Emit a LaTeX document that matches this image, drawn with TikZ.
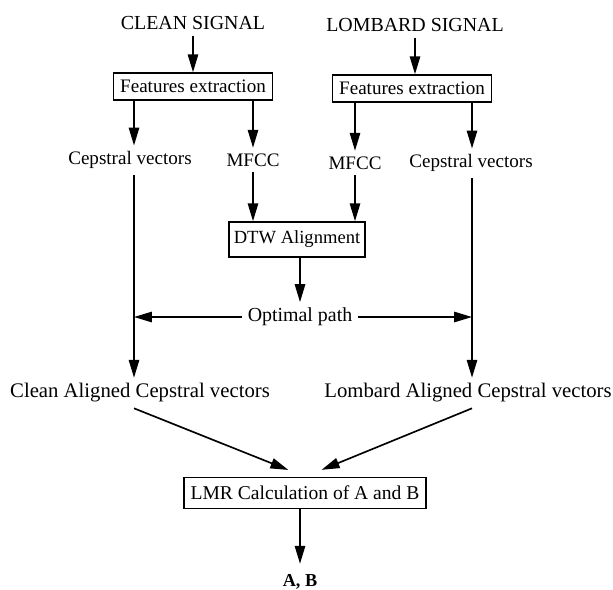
\documentclass[tikz,border=0pt]{standalone}
\usepackage{fontspec}
\setmainfont{Liberation Serif}
\usetikzlibrary{arrows.meta, calc}

\begin{document}
\begin{tikzpicture}[x=0.0212cm, y=-0.0212cm,
  box/.style={draw, line width=1pt, inner xsep=4pt, minimum height=0.57cm, font=\fontsize{11.5}{13}\selectfont},
  lbl/.style={font=\fontsize{11.5}{13}\selectfont},
  sig/.style={font=\fontsize{12}{14}\selectfont},
  big/.style={font=\fontsize{12.5}{15}\selectfont},
  arr/.style={-{Triangle[length=3.8mm, width=2.2mm]}, line width=1pt}]
  \useasboundingbox (0,0) rectangle (613,589);

  % Columns of the two cepstral paths
  \coordinate (colC) at (134, 0);
  \coordinate (colL) at (472, 0);

  % Input signals and feature extraction
  \node[sig] (sigC) at (193, 23) {CLEAN SIGNAL};
  \node[sig] (sigL) at (415, 25) {LOMBARD SIGNAL};
  \node[box] (feC) at (193, 86.5) {Features extraction};
  \node[box] (feL) at (412, 88.5) {Features extraction};

  % Extracted features
  \node[lbl] (cvC) at (130, 160) {Cepstral vectors};
  \node[lbl] (mfC) at (253, 160) {MFCC};
  \node[lbl] (mfL) at (355, 163) {MFCC};
  \node[lbl] (cvL) at (471, 163) {Cepstral vectors};

  % Alignment
  \node[box, font=\fontsize{11.2}{13}\selectfont, inner xsep=3pt, minimum height=0.74cm] (dtw) at (297, 239.5) {DTW Alignment};
  \node[font=\fontsize{12}{14}\selectfont] (opt) at (300, 317) {Optimal path};
  \node[big] (acC) at (140, 393) {Clean Aligned Cepstral vectors};
  \node[big] (acL) at (468, 393) {Lombard Aligned Cepstral vectors};

  % LMR estimation
  \node[box, font=\fontsize{11.8}{14}\selectfont, minimum height=0.66cm] (lmr) at (305, 493) {LMR Calculation of A and B};
  \node[font=\fontsize{11}{13}\selectfont\bfseries] (ab) at (300, 582) {A, B};

  % Connectors
  \draw[arr] (sigC.south) -- (sigC.south |- feC.north);
  \draw[arr] (sigL.south) -- (sigL.south |- feL.north);
  \draw[arr] (feC.south -| colC) -- (cvC.north -| colC);
  \draw[arr] (feC.south -| mfC) -- (mfC.north);
  \draw[arr] (feL.south -| mfL) -- (mfL.north);
  \draw[arr] (feL.south -| colL) -- (cvL.north -| colL);
  \draw[arr] (mfC.south) -- (mfC.south |- dtw.north);
  \draw[arr] (mfL.south) -- (mfL.south |- dtw.north);
  \draw[arr] (dtw.south -| opt) -- (opt.north);
  \draw[arr] (cvC.south -| colC) -- (acC.north -| colC);
  \draw[arr] (cvL.south -| colL) -- (acL.north -| colL);
  \draw[arr] (opt.west) -- (opt.west -| colC);
  \draw[arr] (opt.east) -- (opt.east -| colL);
  \draw[arr, shorten >=0.38cm] (acC.south -| colC) -- (lmr.north);
  \draw[arr, shorten >=0.38cm] (acL.south -| colL) -- (lmr.north);
  \draw[arr, shorten >=3pt] (lmr.south -| ab) -- (ab.north);
\end{tikzpicture}
\end{document}
